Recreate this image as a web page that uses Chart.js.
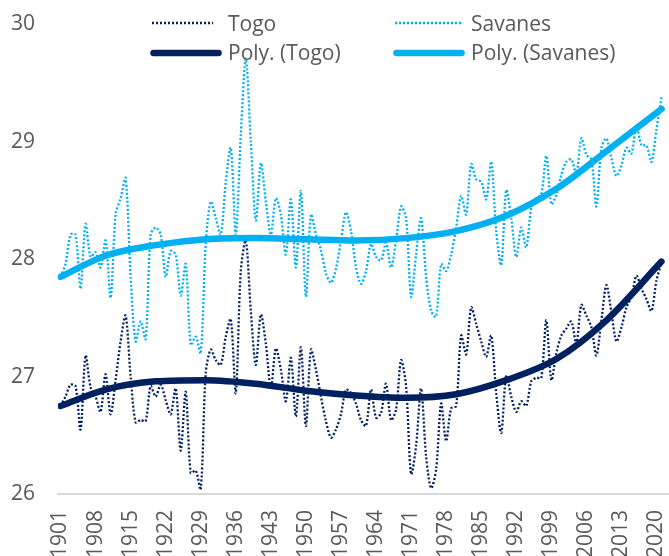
<!DOCTYPE html>
<html>
<head>
<meta charset="utf-8">
<script src="https://cdn.jsdelivr.net/npm/chart.js@4.4.1/dist/chart.umd.min.js"></script>
<style>
  html, body { margin: 0; padding: 0; background: #ffffff; }
  #wrap { position: relative; width: 669px; height: 556px; overflow: hidden; }
  #c { position: absolute; left: 0; top: 0; }
  #legend { position: absolute; left: 0; top: 0; width: 669px; height: 80px; pointer-events: none; }
  .lg { position: absolute; font-family: "Open Sans", sans-serif; font-size: 21px; line-height: 30px; color: #595959; white-space: nowrap; }
</style>
</head>
<body>
<div id="wrap">
  <canvas id="c" width="669" height="556"></canvas>
  <svg id="legend" width="669" height="80" xmlns="http://www.w3.org/2000/svg">
    <line x1="152" y1="23" x2="213" y2="23" stroke="#002060" stroke-width="2.5" stroke-dasharray="2 2"/>
    <line x1="395" y1="23" x2="461" y2="23" stroke="#00B0F0" stroke-width="2.5" stroke-dasharray="2 2"/>
    <line x1="153.5" y1="53" x2="218.5" y2="53" stroke="#002060" stroke-width="6.5" stroke-linecap="round"/>
    <line x1="396.5" y1="53" x2="461.5" y2="53" stroke="#00B0F0" stroke-width="6.5" stroke-linecap="round"/>
  </svg>
  <span class="lg" style="left:228px; top:8px;">Togo</span>
  <span class="lg" style="left:471px; top:8px;">Savanes</span>
  <span class="lg" style="left:228px; top:37px;">Poly. (Togo)</span>
  <span class="lg" style="left:471px; top:37px;">Poly. (Savanes)</span>
</div>
<script>
// ---- data ----
const years = [
  1901,1902,1903,1904,1905,1906,1907,1908,1909,1910,
  1911,1912,1913,1914,1915,1916,1917,1918,1919,1920,
  1921,1922,1923,1924,1925,1926,1927,1928,1929,1930,
  1931,1932,1933,1934,1935,1936,1937,1938,1939,1940,
  1941,1942,1943,1944,1945,1946,1947,1948,1949,1950,
  1951,1952,1953,1954,1955,1956,1957,1958,1959,1960,
  1961,1962,1963,1964,1965,1966,1967,1968,1969,1970,
  1971,1972,1973,1974,1975,1976,1977,1978,1979,1980,
  1981,1982,1983,1984,1985,1986,1987,1988,1989,1990,
  1991,1992,1993,1994,1995,1996,1997,1998,1999,2000,
  2001,2002,2003,2004,2005,2006,2007,2008,2009,2010,
  2011,2012,2013,2014,2015,2016,2017,2018,2019,2020,
  2021
];

const togo = [
  26.75,26.83,26.93,26.92,26.55,27.18,26.91,26.83,26.70,27.02,
  26.68,26.97,27.30,27.52,27.00,26.61,26.63,26.62,26.92,26.83,
  26.93,26.80,26.68,26.90,26.37,26.87,26.18,26.20,26.04,27.03,
  27.23,27.14,27.10,27.34,27.49,26.86,27.90,28.16,27.56,27.10,
  27.53,27.28,26.90,27.24,27.06,26.79,27.16,26.66,27.25,26.58,
  27.23,27.06,26.83,26.62,26.48,26.55,26.68,26.89,26.86,26.77,
  26.63,26.58,26.89,26.65,26.69,26.94,26.63,26.72,27.14,26.92,
  26.17,26.41,26.90,26.32,26.05,26.21,26.77,26.45,26.73,26.75,
  27.35,27.19,27.59,27.45,27.30,27.17,27.35,26.86,26.52,27.01,
  26.83,26.70,26.79,26.75,26.96,26.99,26.99,27.48,26.97,27.20,
  27.35,27.41,27.47,27.28,27.61,27.52,27.42,27.18,27.48,27.78,
  27.55,27.30,27.42,27.59,27.68,27.86,27.75,27.66,27.56,27.82,
  27.97
];

const savanes = [
  27.85,27.96,28.21,28.21,27.75,28.30,28.02,28.06,27.93,28.16,
  27.67,28.38,28.52,28.69,27.85,27.30,27.47,27.32,28.21,28.27,
  28.21,27.85,28.07,28.04,27.69,27.96,27.27,27.34,27.20,28.13,
  28.49,28.35,28.21,28.66,28.95,28.21,29.06,29.71,29.00,28.33,
  28.82,28.49,28.21,28.52,28.38,28.04,28.51,27.93,28.58,27.68,
  28.38,28.21,28.08,27.88,27.80,27.92,28.16,28.40,28.24,27.93,
  27.79,27.90,28.13,28.02,27.99,28.14,27.93,28.16,28.45,28.35,
  27.68,28.04,28.35,27.85,27.56,27.51,27.96,27.90,28.04,28.27,
  28.54,28.38,28.81,28.68,28.66,28.51,28.83,28.24,27.95,28.59,
  28.35,28.02,28.27,28.10,28.44,28.52,28.55,28.88,28.47,28.55,
  28.72,28.83,28.85,28.73,29.03,28.89,28.85,28.45,28.95,29.03,
  28.86,28.71,28.80,28.95,28.90,29.14,28.97,28.97,28.83,29.11,
  29.38
];

// polynomial trend lines at a few years
const trendYears = [1901, 1910, 1920, 1930, 1940, 1950, 1960, 1970, 1980, 1990, 2000, 2010, 2021];
const togoTrend  = [26.75, 26.89, 26.96, 26.97, 26.94, 26.88, 26.84, 26.82, 26.85, 26.97, 27.15, 27.48, 27.98];
const savTrend   = [27.85, 28.03, 28.12, 28.17, 28.18, 28.17, 28.16, 28.18, 28.24, 28.37, 28.60, 28.92, 29.28];

const xTickLabels = ['1901','1908','1915','1922','1929','1936','1943','1950','1957','1964','1971','1978','1985','1992','1999','2006','2013','2020'];
const yTickLabels = ['26','27','28','29','30'];

const seriesNames = ['Togo', 'Savanes', 'Poly. (Togo)', 'Poly. (Savanes)'];

// ---- chart ----
const NAVY = '#002060';
const BLUE = '#00B0F0';
const TEXT = '#595959';
const FONT = { family: '"Open Sans", sans-serif', size: 21 };

const pts = (xs, ys) => ys.map((v, i) => ({ x: xs[i], y: v }));
const noPad = (scale) => {
  scale.paddingLeft = 0; scale.paddingRight = 0;
  scale.paddingTop = 0; scale.paddingBottom = 0;
};

new Chart(document.getElementById('c'), {
  type: 'line',
  data: {
    datasets: [
      {
        label: seriesNames[2], data: pts(trendYears, togoTrend),
        borderColor: NAVY, borderWidth: 6.5, pointRadius: 0,
        cubicInterpolationMode: 'monotone', borderCapStyle: 'round', order: 0
      },
      {
        label: seriesNames[3], data: pts(trendYears, savTrend),
        borderColor: BLUE, borderWidth: 6.5, pointRadius: 0,
        cubicInterpolationMode: 'monotone', borderCapStyle: 'round', order: 1
      },
      {
        label: seriesNames[0], data: pts(years, togo),
        borderColor: NAVY, borderWidth: 2.3, borderDash: [2, 2], pointRadius: 0,
        tension: 0.3, order: 2
      },
      {
        label: seriesNames[1], data: pts(years, savanes),
        borderColor: BLUE, borderWidth: 2.3, borderDash: [2, 2], pointRadius: 0,
        tension: 0.3, order: 3
      }
    ]
  },
  options: {
    responsive: false,
    animation: false,
    devicePixelRatio: 1,
    layout: { padding: { top: 24.5, right: 0, bottom: 0, left: 0 } },
    plugins: { legend: { display: false }, tooltip: { enabled: false } },
    scales: {
      x: {
        type: 'linear',
        min: 1900.5,
        max: 2022.5,
        grid: { display: false, drawTicks: false },
        border: { display: true, color: '#d9d9d9', width: 2 },
        afterBuildTicks: (scale) => { scale.ticks = xTickLabels.map(t => ({ value: Number(t) })); },
        afterFit: (scale) => { scale.height = 62; noPad(scale); },
        ticks: {
          autoSkip: false,
          minRotation: 90,
          maxRotation: 90,
          padding: 16,
          color: TEXT,
          font: FONT,
          callback: (v) => String(v)
        }
      },
      y: {
        type: 'linear',
        min: Number(yTickLabels[0]),
        max: Number(yTickLabels[yTickLabels.length - 1]),
        grid: { display: false, drawTicks: false },
        border: { display: false },
        afterFit: (scale) => { scale.width = 58; noPad(scale); },
        ticks: {
          stepSize: 1,
          padding: 23,
          color: TEXT,
          font: FONT,
          callback: (v) => String(v)
        }
      }
    }
  }
});
</script>
</body>
</html>
